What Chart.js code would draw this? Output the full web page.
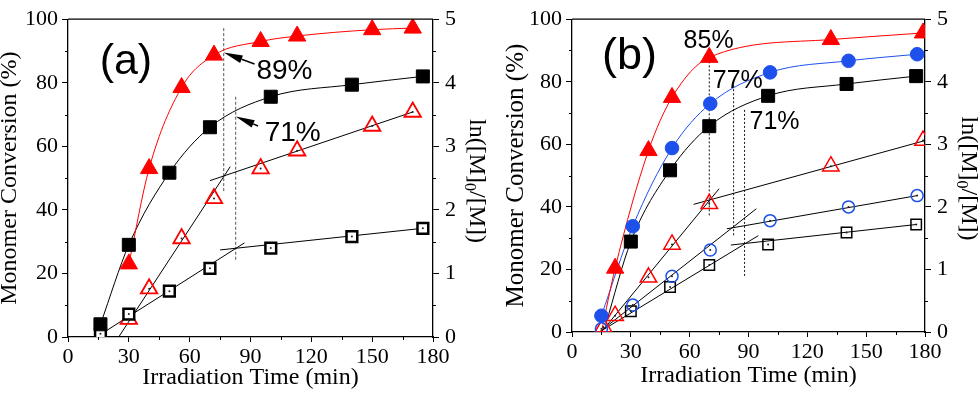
<!DOCTYPE html>
<html><head><meta charset="utf-8">
<script src="https://cdn.jsdelivr.net/npm/chart.js@4.4.1/dist/chart.umd.min.js"></script>
<style>
html,body{margin:0;padding:0;background:#fff;overflow:hidden}
#wrap{position:relative;width:979px;height:396px;background:#fff}
canvas{position:absolute;top:0}
#ca{left:0}
#cb{left:490px}
</style></head><body>
<div id="wrap">
<canvas id="ca" width="490" height="396"></canvas>
<canvas id="cb" width="489" height="396"></canvas>
</div>
<script>
// ---------------- DATA ----------------
// Panel (a)
const aTimeTri = [30, 40, 56, 72, 95, 113, 150, 170];
const aConvTri = [23, 53, 78.5, 88.7, 93, 94.7, 96.7, 97.2];          // % (filled red triangles)
const aLnTri   = [0.28, 0.76, 1.55, 2.18, 2.65, 2.93, 3.32, 3.54];     // ln (open red triangles)
const aTimeSq  = [16, 30, 50, 70, 100, 140, 175];
const aConvSq  = [4, 29, 51.7, 66, 75.6, 79.4, 82];                    // % (filled black squares)
const aLnSq    = [0.05, 0.36, 0.72, 1.08, 1.40, 1.58, 1.71];           // ln (open black squares)
const aFitTriX1 = [25, 80],  aFitTriY1 = [0, 2.68];
const aFitTriX2 = [70, 170], aFitTriY2 = [2.46, 3.54];
const aFitSqX1  = [14, 87],  aFitSqY1  = [0, 1.48];
const aFitSqX2  = [75, 175], aFitSqY2  = [1.37, 1.71];
const aDropX = [76.8, 82.7];
const aDropTop = [97.2, 75.6];
const aDropBot = [45.3, 23.7];

// Panel (b)
const bTimeTri = [22, 39, 51, 70, 132, 179];
const bConvTri = [20.4, 58, 75, 87.8, 93.5, 95.6];
const bTimeCir = [15, 31, 51, 70.5, 101, 141, 176];
const bConvCir = [5.2, 33.8, 58.8, 73, 83, 86.7, 88.8];
const bTimeSq  = [30, 50, 70, 100, 140, 175.5];
const bConvSq  = [28.9, 51.7, 65.8, 75.5, 79.3, 81.8];
const bTimeOTri = [16, 22, 39, 51, 70, 132, 179];
const bLnOTri   = [0.08, 0.26, 0.875, 1.40, 2.05, 2.65, 3.06];
const bTimeOCir = [15, 31, 51, 70.5, 101, 141, 176];
const bLnOCir   = [0.05, 0.43, 0.89, 1.31, 1.78, 2.0, 2.18];
const bTimeOSq  = [30, 50, 70, 100, 140, 175.5];
const bLnOSq    = [0.33, 0.72, 1.07, 1.40, 1.59, 1.72];
const bCurveStartTri = [15, 0];
const bCurveStartSq  = [17, 2];
const bFitTriX1 = [15, 75],  bFitTriY1 = [0, 2.29];
const bFitTriX2 = [62, 180], bFitTriY2 = [2.04, 3.06];
const bFitCirX1 = [14, 94],  bFitCirY1 = [0, 1.97];
const bFitCirX2 = [79, 176], bFitCirY2 = [1.65, 2.18];
const bFitSqX1  = [14, 95],  bFitSqY1  = [0, 1.54];
const bFitSqX2  = [81, 176], bFitSqY2  = [1.39, 1.72];
const bDropX   = [70, 82.4, 88];
const bDropTop = [87.8, 78.9, 71];
const bDropBot = [37.1, 30.8, 17.5];

// Axis ticks
const xTicks = [0, 30, 60, 90, 120, 150, 180];
const yTicks = [0, 20, 40, 60, 80, 100];
const y2Ticks = [0, 1, 2, 3, 4, 5];

// ---------------- helpers ----------------
const SERIF = "'Liberation Serif','Times New Roman',serif";
const SANS = "'Liberation Sans',Arial,sans-serif";
const RED = '#ff0000', BLUE = 'rgb(30,80,235)', BLK = '#000';
const pts = (xs, ys) => xs.map((x, i) => ({x, y: ys[i]}));

function markers(xs, ys, axis, style, r, fill, stroke, bw) {
  return {data: pts(xs, ys), yAxisID: axis, showLine: false, clip: 0,
    pointStyle: style, pointRadius: r, pointBackgroundColor: fill,
    pointBorderColor: stroke, pointBorderWidth: bw, borderColor: stroke, backgroundColor: fill};
}
function dots(xs, ys, axis) {
  return {data: pts(xs, ys), yAxisID: axis, showLine: false, clip: 0,
    pointStyle: 'circle', pointRadius: 1, pointBackgroundColor: '#222', pointBorderWidth: 0};
}
function curve(xs, ys, axis, color) {
  return {data: pts(xs, ys), yAxisID: axis, showLine: true, pointRadius: 0, borderWidth: 1,
    borderColor: color, cubicInterpolationMode: 'monotone', fill: false, clip: 0};
}
function seg(xs, ys, axis, color, dash) {
  return {data: pts(xs, ys), yAxisID: axis, showLine: true, pointRadius: 0, borderWidth: 1,
    borderColor: color, borderDash: dash || [], tension: 0, fill: false, clip: 0};
}

function makeOptions(p) {
  const tickFont = {family: SERIF, size: 22, lineHeight: 1.2};
  return {
    responsive: false, animation: false, devicePixelRatio: 1,
    layout: {padding: {top: 13, left: 0, right: 0, bottom: 0}},
    plugins: {legend: {display: false}, tooltip: {enabled: false}},
    scales: {
      x: {type: 'linear', min: 0, max: 180, position: 'bottom',
        afterFit: s => { s.height = p.xH; },
        afterBuildTicks: s => { s.ticks = xTicks.map(v => ({value: v})); },
        ticks: {font: tickFont, color: '#000', padding: 2, maxRotation: 0, autoSkip: false},
        grid: {display: true, drawOnChartArea: false, drawTicks: true, tickLength: 5, color: '#000', lineWidth: 1},
        border: {display: true, color: '#000', width: 1.3},
        title: {display: true, text: 'Irradiation Time (min)', color: '#000',
          font: {family: SERIF, size: 24, lineHeight: 1}, padding: {top: 0, bottom: p.xTitlePad}}},
      y: {type: 'linear', min: 0, max: 100, position: 'left',
        afterFit: s => { s.width = p.yW; },
        afterBuildTicks: s => { s.ticks = yTicks.map(v => ({value: v})); },
        ticks: {font: tickFont, color: '#000', padding: 4},
        grid: {display: true, drawOnChartArea: false, drawTicks: true, tickLength: 6, color: '#000', lineWidth: 1},
        border: {display: true, color: '#000', width: 1.3},
        title: {display: true, text: 'Monomer Conversion (%)', color: '#000',
          font: {family: SERIF, size: p.yTitleSize, lineHeight: 0.85}, padding: {top: p.yTitlePad, bottom: 0}}},
      y2: {type: 'linear', min: 0, max: 5, position: 'right',
        afterFit: s => { s.width = p.y2W; },
        afterBuildTicks: s => { s.ticks = y2Ticks.map(v => ({value: v})); },
        ticks: {font: tickFont, color: '#000', padding: 6},
        grid: {display: true, drawOnChartArea: false, drawTicks: true, tickLength: 6, color: '#000', lineWidth: 1},
        border: {display: true, color: '#000', width: 1.3},
        title: {display: false}}
    }
  };
}

function decoPlugin(p) {
  return {
    id: 'deco',
    afterDraw(chart) {
      const {ctx, chartArea: ca, scales} = chart;
      const X = scales.x, Y = scales.y, Y2 = scales.y2;
      ctx.save();
      ctx.strokeStyle = '#000';
      ctx.lineWidth = 1.3;
      ctx.beginPath(); ctx.moveTo(ca.left, ca.top); ctx.lineTo(ca.right, ca.top); ctx.stroke();
      ctx.lineWidth = 1;
      ctx.beginPath();
      for (let v = 15; v < 180; v += 30) { const px = Math.round(X.getPixelForValue(v)) + 0.5; ctx.moveTo(px, ca.bottom); ctx.lineTo(px, ca.bottom + 3); }
      for (let v = 10; v < 100; v += 20) { const py = Math.round(Y.getPixelForValue(v)) + 0.5; ctx.moveTo(ca.left - 3, py); ctx.lineTo(ca.left, py); }
      for (let v = 0.5; v < 5; v += 1) { const py = Math.round(Y2.getPixelForValue(v)) + 0.5; ctx.moveTo(ca.right, py); ctx.lineTo(ca.right + 3, py); }
      ctx.stroke();

      // right axis title with subscript
      const cx = chart.width - p.y2TitleOff, cy = (ca.top + ca.bottom) / 2 + 3;
      ctx.translate(cx, cy); ctx.rotate(Math.PI / 2);
      ctx.fillStyle = '#000'; ctx.textBaseline = 'middle'; ctx.textAlign = 'left';
      const big = '24px ' + SERIF, small = '16px ' + SERIF;
      ctx.font = big; const w1 = ctx.measureText('ln([M]').width; const w3 = ctx.measureText('/[M])').width;
      ctx.font = small; const w2 = ctx.measureText('0').width;
      let sx = -(w1 + w2 + w3) / 2;
      ctx.font = big; ctx.fillText('ln([M]', sx, 0); sx += w1;
      ctx.font = small; ctx.fillText('0', sx, 7); sx += w2;
      ctx.font = big; ctx.fillText('/[M])', sx, 0);
      ctx.setTransform(1, 0, 0, 1, 0, 0);

      // annotations
      ctx.fillStyle = '#000'; ctx.textBaseline = 'alphabetic'; ctx.textAlign = 'left';
      for (const t of p.texts) {
        ctx.font = t.size + 'px ' + SANS;
        ctx.fillText(t.text, X.getPixelForValue(t.x), Y.getPixelForValue(t.y));
      }
      for (const a of p.arrows) {
        const x0 = X.getPixelForValue(a.x0), y0 = Y.getPixelForValue(a.y0);
        const x1 = X.getPixelForValue(a.x1), y1 = Y.getPixelForValue(a.y1);
        const ang = Math.atan2(y1 - y0, x1 - x0), L = 19, H = 4;
        const bx = x1 - L * Math.cos(ang), by = y1 - L * Math.sin(ang);
        ctx.lineWidth = 1.5; ctx.beginPath(); ctx.moveTo(x0, y0); ctx.lineTo(bx, by); ctx.stroke();
        ctx.beginPath(); ctx.moveTo(x1, y1);
        ctx.lineTo(bx + H * Math.sin(ang), by - H * Math.cos(ang));
        ctx.lineTo(bx - H * Math.sin(ang), by + H * Math.cos(ang));
        ctx.closePath(); ctx.fill();
      }
      ctx.restore();
    }
  };
}

// ---------------- Panel (a) ----------------
const dsA = [
  dots(aTimeTri, aLnTri, 'y2'),
  dots(aTimeSq, aLnSq, 'y2'),
  markers(aTimeSq, aConvSq, 'y', 'rect', 9.2, BLK, BLK, 1),
  markers(aTimeTri, aConvTri, 'y', 'triangle', 10, RED, RED, 1),
  markers(aTimeSq, aLnSq, 'y2', 'rect', 7.6, '#fff', BLK, 2.5),
  markers(aTimeTri, aLnTri, 'y2', 'triangle', 9.5, 'rgba(255,255,255,0)', RED, 1.8),
  curve(aTimeTri, aConvTri, 'y', RED),
  curve(aTimeSq, aConvSq, 'y', BLK),
  seg(aFitTriX1, aFitTriY1, 'y2', BLK), seg(aFitTriX2, aFitTriY2, 'y2', BLK),
  seg(aFitSqX1, aFitSqY1, 'y2', BLK), seg(aFitSqX2, aFitSqY2, 'y2', BLK),
];
aDropX.forEach((x, i) => dsA.push(seg([x, x], [aDropTop[i], aDropBot[i]], 'y', '#555', [3, 2])));

new Chart(document.getElementById('ca'), {
  type: 'line', data: {datasets: dsA},
  options: makeOptions({xH: 59, yW: 68, y2W: 57, xTitlePad: 6.4, yTitlePad: 0, yTitleSize: 24}),
  plugins: [decoPlugin({y2TitleOff: 13.6,
    texts: [{text: '(a)', x: 15.6, y: 82.9, size: 43}, {text: '89%', x: 92.9, y: 81.3, size: 28}, {text: '71%', x: 97, y: 61.7, size: 28}],
    arrows: [{x0: 92, y0: 85.9, x1: 76.8, y1: 89.5}, {x0: 93.7, y0: 66.4, x1: 82.7, y1: 69.4}]})]
});

// ---------------- Panel (b) ----------------
const dsB = [
  dots(bTimeOTri, bLnOTri, 'y2'), dots(bTimeOCir, bLnOCir, 'y2'), dots(bTimeOSq, bLnOSq, 'y2'),
  markers(bTimeCir, bConvCir, 'y', 'circle', 6.8, BLUE, BLUE, 1),
  markers(bTimeSq, bConvSq, 'y', 'rect', 9.2, BLK, BLK, 1),
  markers(bTimeTri, bConvTri, 'y', 'triangle', 10, RED, RED, 1),
  markers(bTimeOCir, bLnOCir, 'y2', 'circle', 6, 'rgba(255,255,255,0)', BLUE, 1.5),
  markers(bTimeOSq, bLnOSq, 'y2', 'rect', 7.4, 'rgba(255,255,255,0)', BLK, 1.5),
  markers(bTimeOTri, bLnOTri, 'y2', 'triangle', 9.5, 'rgba(255,255,255,0)', RED, 1.5),
  curve([bCurveStartTri[0], ...bTimeTri], [bCurveStartTri[1], ...bConvTri], 'y', RED),
  curve(bTimeCir, bConvCir, 'y', BLUE),
  curve([bCurveStartSq[0], ...bTimeSq], [bCurveStartSq[1], ...bConvSq], 'y', BLK),
  seg(bFitTriX1, bFitTriY1, 'y2', BLK), seg(bFitTriX2, bFitTriY2, 'y2', BLK),
  seg(bFitCirX1, bFitCirY1, 'y2', BLK), seg(bFitCirX2, bFitCirY2, 'y2', BLK),
  seg(bFitSqX1, bFitSqY1, 'y2', BLK), seg(bFitSqX2, bFitSqY2, 'y2', BLK),
];
bDropX.forEach((x, i) => dsB.push(seg([x, x], [bDropTop[i], bDropBot[i]], 'y', '#111', [2, 2])));

new Chart(document.getElementById('cb'), {
  type: 'line', data: {datasets: dsB},
  options: makeOptions({xH: 64, yW: 82, y2W: 54, xTitlePad: 8.4, yTitlePad: 15.4, yTitleSize: 25}),
  plugins: [decoPlugin({y2TitleOff: 10.6,
    texts: [{text: '(b)', x: 15.3, y: 84.2, size: 45}, {text: '85%', x: 56.9, y: 90.9, size: 25}, {text: '77%', x: 71.8, y: 77.9, size: 25}, {text: '71%', x: 90.5, y: 64.8, size: 25}],
    arrows: []})]
});
</script>
</body></html>
